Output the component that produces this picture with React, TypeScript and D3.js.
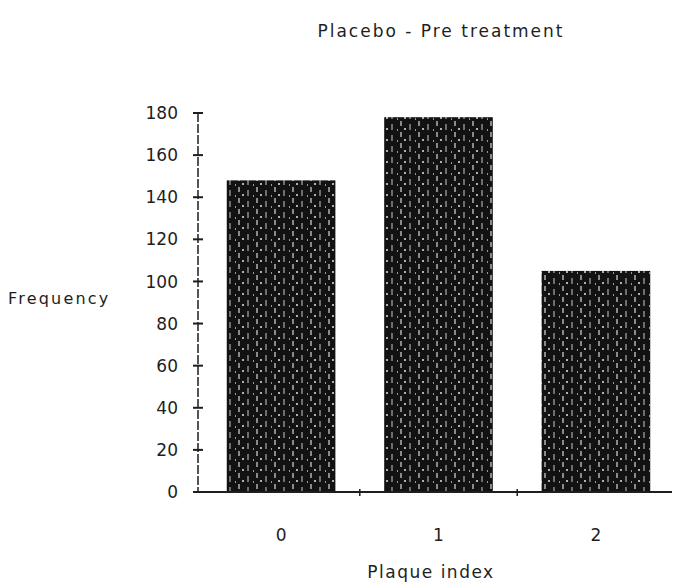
import React, { useEffect, useRef } from 'react';
import * as d3 from 'd3';

const categories = ['0', '1', '2'];
const frequency = [148, 178, 105];
const yTicks = [0, 20, 40, 60, 80, 100, 120, 140, 160, 180];

const title = 'Placebo - Pre treatment';
const xTitle = 'Plaque index';
const yTitle = 'Frequency';

export default function App() {
  const svgRef = useRef<SVGSVGElement>(null);

  useEffect(() => {
    if (!svgRef.current) return;
    const width = 679;
    const height = 583;
    const margin = { top: 113, right: 2, bottom: 91, left: 200 };

    const svg = d3.select(svgRef.current);
    svg.selectAll('*').remove();

    svg.append('rect').attr('width', width).attr('height', height).attr('fill', '#fff');

    // scanned-looking bar texture
    const defs = svg.append('defs');
    const pat = defs.append('pattern')
      .attr('id', 'scan')
      .attr('patternUnits', 'userSpaceOnUse')
      .attr('width', 18)
      .attr('height', 11);
    pat.append('rect').attr('width', 18).attr('height', 11).attr('fill', '#121212');
    pat.append('rect').attr('x', 4).attr('y', 0).attr('width', 2).attr('height', 5).attr('fill', '#8a8a8a');
    pat.append('rect').attr('x', 13).attr('y', 3).attr('width', 2).attr('height', 6).attr('fill', '#6e6e6e');
    pat.append('rect').attr('x', 8).attr('y', 7).attr('width', 2).attr('height', 2).attr('fill', '#b0b0b0');
    pat.append('rect').attr('x', 1).attr('y', 8).attr('width', 1).attr('height', 2).attr('fill', '#999');

    const x = d3.scaleBand()
      .domain(categories)
      .range([margin.left, width - margin.right])
      .paddingInner(0.31)
      .paddingOuter(0.17);

    const y = d3.scaleLinear()
      .domain([0, 180])
      .range([height - margin.bottom, margin.top]);

    const ink = '#1e1e1e';
    const font = 'DejaVu Sans, sans-serif';

    // bars
    svg.append('g')
      .selectAll('rect')
      .data(frequency)
      .join('rect')
      .attr('x', (_, i) => x(categories[i]) || 0)
      .attr('y', d => y(d))
      .attr('width', x.bandwidth())
      .attr('height', d => y(0) - y(d))
      .attr('fill', 'url(#scan)');

    // y axis
    const yAxis = svg.append('g').attr('transform', `translate(${margin.left - 2},0)`);
    yAxis.append('line')
      .attr('y1', y(180)).attr('y2', y(0))
      .attr('stroke', ink).attr('stroke-width', 1.5)
      .attr('stroke-dasharray', '9 2');
    yAxis.selectAll('line.tick')
      .data(yTicks)
      .join('line')
      .attr('class', 'tick')
      .attr('x1', -5).attr('x2', 5)
      .attr('y1', d => y(d)).attr('y2', d => y(d))
      .attr('stroke', ink).attr('stroke-width', 2);
    yAxis.selectAll('text')
      .data(yTicks)
      .join('text')
      .attr('x', -20)
      .attr('y', d => y(d))
      .attr('dy', '0.36em')
      .attr('text-anchor', 'end')
      .attr('font-family', font)
      .attr('font-size', 17)
      .attr('fill', ink)
      .text(d => d);

    // x axis
    const x0 = y(0);
    svg.append('line')
      .attr('x1', margin.left - 4).attr('x2', width - 7)
      .attr('y1', x0).attr('y2', x0)
      .attr('stroke', ink).attr('stroke-width', 2);
    const step = x.step();
    svg.selectAll('line.xtick')
      .data(categories.slice(1))
      .join('line')
      .attr('class', 'xtick')
      .attr('x1', d => (x(d) || 0) - (step - x.bandwidth()) / 2)
      .attr('x2', d => (x(d) || 0) - (step - x.bandwidth()) / 2)
      .attr('y1', x0 - 3).attr('y2', x0 + 4)
      .attr('stroke', ink).attr('stroke-width', 1.5);
    svg.selectAll('text.xlab')
      .data(categories)
      .join('text')
      .attr('class', 'xlab')
      .attr('x', d => (x(d) || 0) + x.bandwidth() / 2)
      .attr('y', x0 + 49)
      .attr('text-anchor', 'middle')
      .attr('font-family', font)
      .attr('font-size', 17)
      .attr('fill', ink)
      .text(d => d);

    svg.append('text')
      .attr('x', 431).attr('y', 578)
      .attr('text-anchor', 'middle')
      .attr('font-family', font)
      .attr('font-size', 17)
      .attr('letter-spacing', 1.5)
      .attr('fill', ink)
      .text(xTitle);

    svg.append('text')
      .attr('x', 8).attr('y', 304)
      .attr('font-family', font)
      .attr('font-size', 16)
      .attr('letter-spacing', 2.2)
      .attr('fill', ink)
      .text(yTitle);

    svg.append('text')
      .attr('x', 441).attr('y', 37)
      .attr('text-anchor', 'middle')
      .attr('font-family', font)
      .attr('font-size', 17)
      .attr('letter-spacing', 2)
      .attr('fill', ink)
      .text(title);
  }, []);

  return (
    <svg
      ref={svgRef}
      width={679}
      height={583}
      style={{ position: 'absolute', left: 0, top: 0, display: 'block' }}
    />
  );
}
